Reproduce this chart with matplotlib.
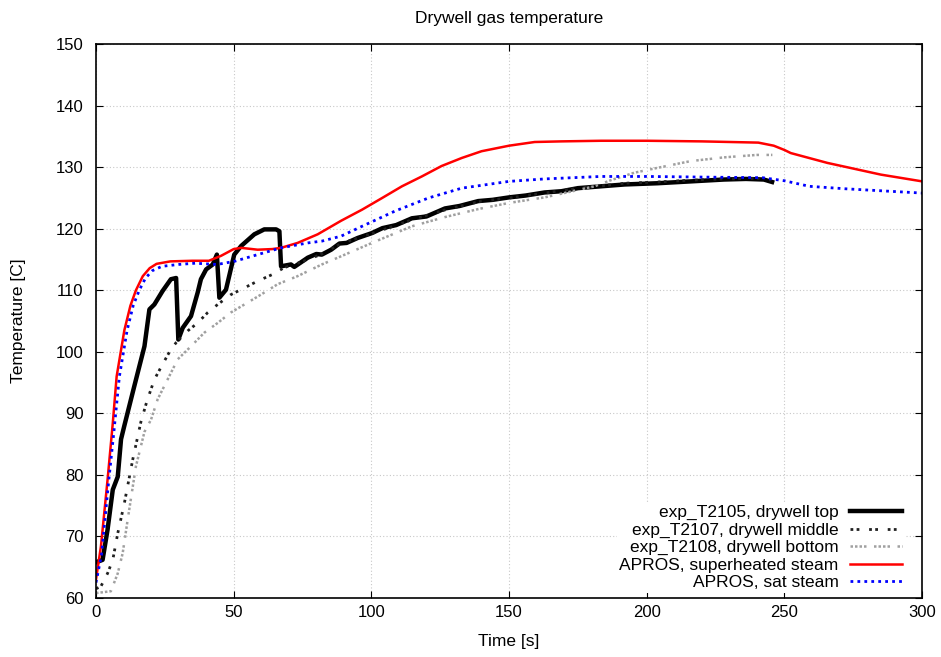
import numpy as np
import matplotlib
matplotlib.use("Agg")
import matplotlib.pyplot as plt

plt.rcParams['font.family'] = ['Liberation Sans', 'DejaVu Sans']

# exp_T2105, drywell top (thick black)
top_t = [0, 2.4, 4.2, 6.1, 7.9, 9.1, 10.3, 13.9, 17.6, 19.4, 21.2, 24.2, 27.2, 29.1,
         29.9, 31.5, 34.5, 36.9, 38.1, 40, 42.4, 43.9, 44.8, 47.2, 50.2, 52.7, 57.5,
         61.1, 65.4, 66.6, 67.2, 70.8, 72, 76.9, 80, 82, 85.4, 88.4, 91, 95, 100.2,
         104, 109, 114.7, 120, 126.7, 132, 138.8, 144, 150, 156, 162.9, 169, 175,
         183.4, 192, 204, 216, 228, 236, 242.5, 245.5]
top_T = [65.8, 66.2, 71.1, 77.6, 79.7, 85.8, 88.0, 94.4, 100.9, 106.9, 107.7, 109.9,
         111.8, 112.0, 102.0, 103.9, 105.8, 109.6, 111.8, 113.4, 114.2, 115.8, 108.8,
         110.1, 115.8, 117.2, 119.1, 119.9, 119.9, 119.6, 113.9, 114.2, 113.8, 115.3,
         115.9, 115.8, 116.6, 117.6, 117.7, 118.5, 119.3, 120.1, 120.6, 121.7, 122.0,
         123.3, 123.7, 124.5, 124.7, 125.1, 125.4, 125.9, 126.1, 126.6, 126.9, 127.2,
         127.4, 127.7, 128.0, 128.1, 128.0, 127.6]

# exp_T2107, drywell middle
mid_t = [0, 1.8, 4.2, 6.1, 7.9, 10.3, 13.3, 16.3, 18.5, 21.2, 24.2, 27.2, 29.1, 33.3,
         36.9, 40.6, 44.2, 49, 53.9, 58.7, 64.2, 68.4, 72, 77, 82, 89, 100, 115, 127,
         139, 150, 163, 175, 184, 192, 204, 216, 228, 242, 245]
mid_T = [61.5, 61.9, 64.0, 66.2, 70.5, 75.4, 82.4, 88.6, 92.0, 95.5, 98.0, 100.4,
         101.5, 103.4, 104.7, 106.4, 107.7, 109.3, 110.4, 111.5, 112.6, 113.7, 114.2,
         115.0, 115.9, 117.6, 119.2, 121.5, 123.1, 124.4, 125.0, 125.8, 126.6, 127.0,
         127.4, 127.6, 127.9, 128.1, 128.2, 127.9]

# exp_T2108, drywell bottom
bot_t = [0, 5.4, 7.9, 9.7, 11.5, 14.5, 17.6, 20, 22.4, 26, 29.7, 34.5, 39.3, 44.2, 49,
         53.9, 59.9, 66, 73.2, 82, 87.8, 100.2, 114.7, 126.7, 138.8, 150, 162.9, 175,
         181, 187, 195.4, 203.9, 216, 228, 240, 245.6]
bot_T = [60.8, 61.1, 64.0, 67.3, 72.7, 81.4, 87.0, 89.0, 92.3, 95.5, 98.8, 100.9,
         103.1, 104.7, 106.4, 107.7, 109.3, 111.0, 112.3, 114.2, 115.3, 117.7, 120.4,
         121.9, 123.2, 124.2, 125.1, 126.3, 126.9, 127.9, 129.1, 129.9, 131.0, 131.6,
         132.0, 132.0]

# APROS, superheated steam
sup_t = [0, 1.8, 4.2, 6.1, 7.5, 10.3, 12.5, 14.5, 17, 19.5, 22, 27, 35, 41, 45.4, 50,
         52.7, 58.7, 64, 67.2, 73.2, 80.5, 89, 96.6, 103.9, 111.1, 118.3, 125.5, 132.8,
         140, 150, 159.3, 168.9, 183.4, 200, 220, 240.5, 246.1, 250, 252.3, 265.6,
         285, 300]
sup_T = [63.0, 68.4, 79.2, 88.4, 96.0, 103.5, 107.5, 110.0, 112.3, 113.6, 114.3,
         114.7, 114.8, 114.8, 115.6, 116.7, 116.9, 116.6, 116.7, 116.9, 117.7, 119.1,
         121.3, 123.1, 125.0, 126.9, 128.5, 130.2, 131.5, 132.6, 133.5, 134.1, 134.2,
         134.3, 134.3, 134.2, 134.0, 133.5, 132.8, 132.3, 130.7, 128.8, 127.7]

# APROS, sat steam
sat_t = [0, 2, 4.5, 6.5, 8.5, 11.3, 13.5, 15.7, 18, 20.5, 24, 30, 36, 44, 50.2, 58.7,
         67.2, 76.9, 82.1, 89, 96.6, 108.7, 120.7, 132.8, 150, 162.9, 183.4, 200, 220,
         242, 250, 259, 272, 300]
sat_T = [62.5, 67.0, 78.5, 87.0, 96.0, 103.5, 107.5, 110.0, 112.0, 113.2, 113.9,
         114.2, 114.4, 114.2, 114.7, 115.8, 116.9, 117.7, 118.0, 118.8, 120.4, 122.9,
         125.0, 126.6, 127.7, 128.1, 128.5, 128.5, 128.4, 128.3, 127.8, 126.9, 126.5,
         125.8]

fig = plt.figure(figsize=(9.41, 6.57), dpi=100)
ax = fig.add_axes([0.102, 0.0898, 0.878, 0.843])

ax.plot(top_t, top_T, color='black', lw=3.2, label='exp_T2105, drywell top')
ax.plot(mid_t, mid_T, color='#202020', lw=2.0, ls=(0, (1, 1.2, 1, 3.5)),
        label='exp_T2107, drywell middle')
ax.plot(bot_t, bot_T, color='#a0a0a0', lw=1.8, ls=(0, (1, 0.8, 1, 0.8, 1, 0.8, 1, 3)),
        label='exp_T2108, drywell bottom')
ax.plot(sup_t, sup_T, color='#ff0000', lw=1.8, label='APROS, superheated steam')
ax.plot(sat_t, sat_T, color='#0000ff', lw=2.0, ls=(0, (1, 1.5)),
        label='APROS, sat steam')

ax.set_xlim(0, 300)
ax.set_ylim(60, 150)
ax.set_xticks(np.arange(0, 301, 50))
ax.set_yticks(np.arange(60, 151, 10))
ax.tick_params(direction='in', top=True, right=True, labelsize=12, length=5)
ax.tick_params(axis='x', pad=5)
ax.tick_params(axis='y', pad=9)
ax.grid(True, color='#c8c8c8', ls=(0, (1, 2)), lw=0.8)
for s in ax.spines.values():
    s.set_linewidth(1.2)

ax.set_title('Drywell gas temperature', fontsize=12.5, pad=15)
ax.set_xlabel('Time [s]', fontsize=12.5, labelpad=10)
ax.set_ylabel('Temperature [C]', fontsize=12.5, labelpad=21)

leg = ax.legend(loc='lower right', markerfirst=False, fontsize=12.5, handlelength=3.0,
                labelspacing=0.13, borderpad=0.15, borderaxespad=0.3,
                handletextpad=0.65, frameon=True, fancybox=False,
                bbox_to_anchor=(0.985, 0.0))
leg.get_frame().set_facecolor('white')
leg.get_frame().set_edgecolor('none')
leg.get_frame().set_alpha(1)

fig.savefig('out.png', dpi=100)
